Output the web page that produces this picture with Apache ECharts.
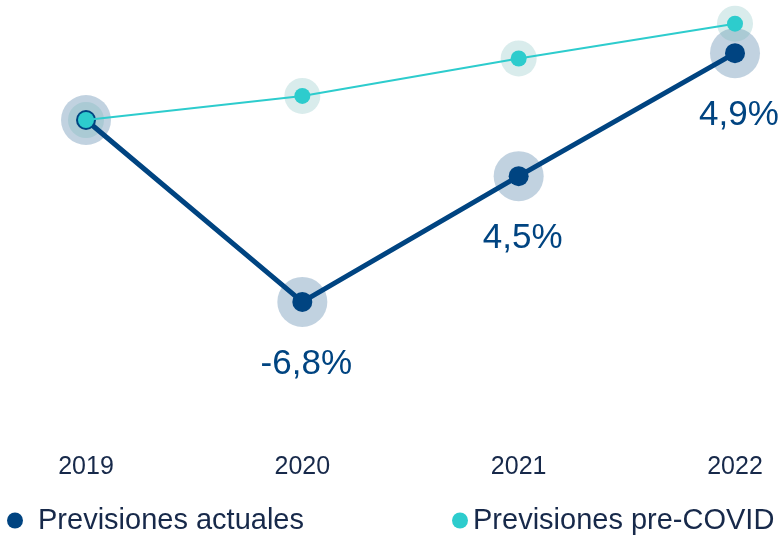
<!DOCTYPE html>
<html>
<head>
<meta charset="utf-8">
<script src="https://cdn.jsdelivr.net/npm/echarts@6/dist/echarts.min.js"></script>
<style>
  html, body { margin: 0; padding: 0; background: #ffffff; }
  #chart { width: 782px; height: 536px; }
</style>
</head>
<body>
<div id="chart"></div>
<script>
// Years on the horizontal axis
const years = ['2019', '2020', '2021', '2022'];

// GDP level index (2019 = 100)
const actualLevels = [100, 93.2, 97.9, 102.5];
const preCovidLevels = [100, 100.9, 102.3, 103.6];

// Annual growth shown under the current-forecast points
const actualGrowthLabels = ['', '-6,8%', '4,5%', '4,9%'];

const seriesNames = ['Previsiones actuales', 'Previsiones pre-COVID'];

const NAVY = '#004481';
const AQUA = '#2dcccd';
const TEXT = '#17294a';
const FONT = '"Liberation Sans", Arial, sans-serif';

const chart = echarts.init(document.getElementById('chart'), null, { renderer: 'canvas' });

chart.setOption({
  animation: false,
  backgroundColor: '#ffffff',
  textStyle: { fontFamily: FONT },
  grid: { left: 86, right: 47, top: 13, bottom: 95 },
  xAxis: {
    type: 'category',
    data: years,
    boundaryGap: false,
    axisLine: { show: false },
    axisTick: { show: false },
    splitLine: { show: false },
    axisLabel: {
      margin: 14,
      fontSize: 25,
      color: TEXT,
      fontFamily: FONT
    }
  },
  yAxis: {
    type: 'value',
    min: 88,
    max: 104,
    show: false,
    splitLine: { show: false }
  },
  legend: [
    {
      data: [seriesNames[0]],
      left: 2,
      top: 501,
      icon: 'circle',
      itemWidth: 16,
      itemHeight: 16,
      textStyle: { fontSize: 29, color: TEXT, fontFamily: FONT, padding: [0, 0, 0, 10] },
      selectedMode: false
    },
    {
      data: [seriesNames[1]],
      left: 447,
      top: 501,
      icon: 'circle',
      itemWidth: 16,
      itemHeight: 16,
      textStyle: { fontSize: 29, color: TEXT, fontFamily: FONT },
      selectedMode: false
    }
  ],
  series: [
    {
      // soft halo behind current-forecast points
      name: 'halo-actual',
      type: 'scatter',
      data: actualLevels,
      symbol: 'circle',
      symbolSize: 50,
      itemStyle: { color: 'rgba(0,68,129,0.3)' },
      silent: true,
      z: 1
    },
    {
      // soft halo behind pre-COVID points
      name: 'halo-pre',
      type: 'scatter',
      data: preCovidLevels,
      symbol: 'circle',
      symbolSize: 36,
      itemStyle: { color: 'rgba(98,178,178,0.3)' },
      silent: true,
      z: 1
    },
    {
      name: seriesNames[0],
      type: 'line',
      data: actualLevels,
      symbol: 'circle',
      symbolSize: 20,
      showAllSymbol: true,
      lineStyle: { color: NAVY, width: 5 },
      itemStyle: { color: NAVY },
      label: {
        show: true,
        position: 'inside',
        offset: [4, 62],
        fontSize: 35,
        color: NAVY,
        fontFamily: FONT,
        formatter: (p) => actualGrowthLabels[p.dataIndex]
      },
      z: 3
    },
    {
      name: seriesNames[1],
      type: 'line',
      data: preCovidLevels,
      symbol: 'circle',
      symbolSize: 16,
      showAllSymbol: true,
      lineStyle: { color: AQUA, width: 2 },
      itemStyle: { color: AQUA },
      z: 4
    }
  ]
});
</script>
</body>
</html>
